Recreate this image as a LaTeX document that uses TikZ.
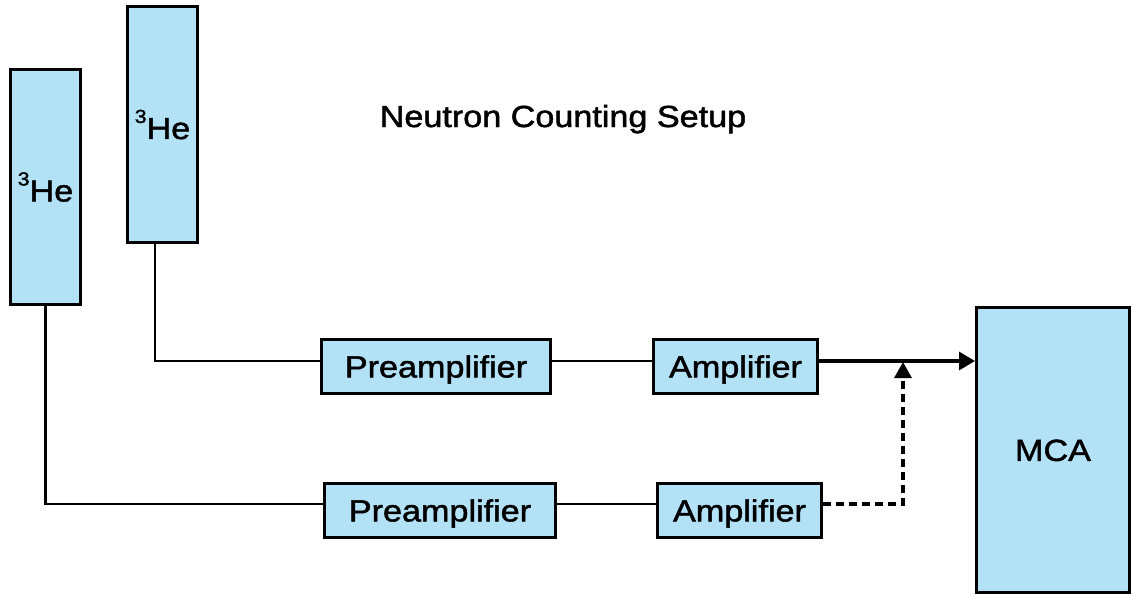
\documentclass[tikz,border=0pt]{standalone}
\usepackage{fontspec}
\setmainfont{Liberation Sans}[FakeStretch=1.12,FakeBold=1.6]
\usetikzlibrary{arrows.meta}
\definecolor{boxblue}{RGB}{179,225,246}
\newcommand{\HeLabel}{\raisebox{16pt}{\fontsize{19}{19}\selectfont 3}He}
\begin{document}
\begin{tikzpicture}[x=1pt,y=-1pt,
  box/.style={draw=black, line width=3pt, fill=boxblue, inner sep=0pt,
              font=\fontsize{30.5}{36}\selectfont},
  lbl/.style={text height=21.8pt, text depth=0pt},
  wire/.style={line width=2.3pt, draw=black},
  mainarrow/.style={line width=3.3pt, draw=black, -{Triangle[length=16pt,width=18pt]}},
  dasharrow/.style={line width=3.1pt, draw=black, dash pattern=on 8pt off 5pt,
                    -{Triangle[length=16pt,width=17pt]}}]
\useasboundingbox (0,0) rectangle (1132,595);

% title
\node[font=\fontsize{30.5}{36}\selectfont, anchor=base, inner sep=0pt] (title) at (563,127) {Neutron Counting Setup};

% detectors
\node[box, minimum width=70pt, minimum height=235pt] (he1) at (45.5,187) {\HeLabel};
\node[box, minimum width=70pt, minimum height=236pt] (he2) at (162.5,124.5) {\HeLabel};

% electronics
\node[box, lbl, minimum width=229pt, minimum height=54pt] (pre1) at (436,366.5) {Preamplifier};
\node[box, lbl, minimum width=164pt, minimum height=54pt] (amp1) at (735.5,366.5) {Amplifier};
\node[box, lbl, minimum width=231pt, minimum height=54pt] (pre2) at (440,510.5) {Preamplifier};
\node[box, lbl, minimum width=164pt, minimum height=54pt] (amp2) at (739.5,510.5) {Amplifier};
\node[box, lbl, minimum width=153pt, minimum height=285pt] (mca) at (1053,450) {MCA};

% signal levels
\coordinate (y1) at (0,361);
\coordinate (y2) at (0,504);
\coordinate (j) at (903,362);
\coordinate (he2out) at (155,0);

% connectors
\draw[wire] (he2.south -| he2out) |- (pre1.west |- y1);
\draw[wire] (he1.south) |- (pre2.west |- y2);
\draw[wire] (pre1.east |- y1) -- (amp1.west |- y1);
\draw[wire] (pre2.east |- y2) -- (amp2.west |- y2);
\draw[mainarrow] (amp1.east |- y1) -- (mca.west |- y1);
\draw[dasharrow] (amp2.east |- y2) -| (j);
\end{tikzpicture}
\end{document}
